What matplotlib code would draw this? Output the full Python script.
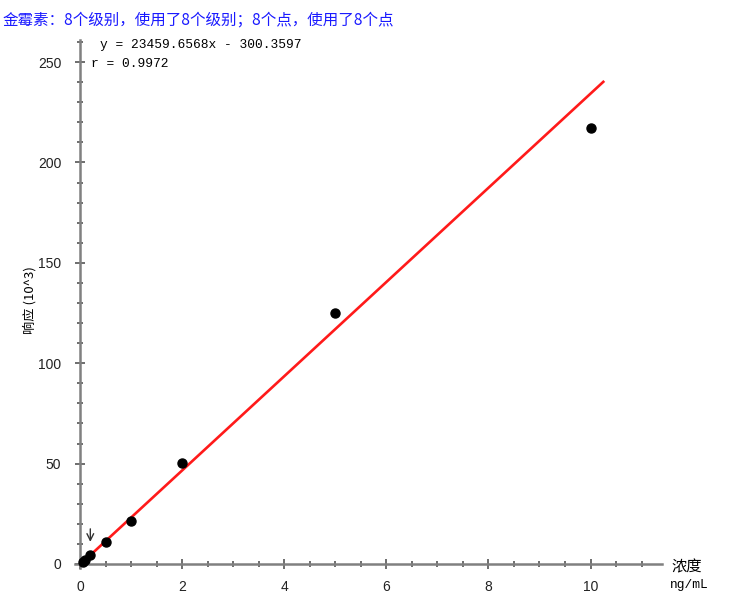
import numpy as np
import matplotlib
matplotlib.use("Agg")
import matplotlib.pyplot as plt
from matplotlib.ticker import MultipleLocator

# calibration levels (ng/mL) and responses (10^3)
conc = [0.05, 0.1, 0.2, 0.5, 1.0, 2.0, 5.0, 10.0]
resp = [1.0, 2.0, 4.6, 11.1, 21.4, 50.1, 125.1, 217.1]

slope = 23459.6568 / 1000
intercept = -300.3597 / 1000
r_value = 0.9972
line_x = [0.0, 10.25]

title = "金霉素：8个级别，使用了8个级别；8个点，使用了8个点"
cjk = ['Noto Sans CJK SC', 'DejaVu Sans']

fig = plt.figure(figsize=(7.33, 6.06), dpi=100)
# x: -0.1 -> px 75, 11.4 -> px 662 ; y: -2 -> px 568, 261 -> px 40
ax = fig.add_axes([75 / 733, 38 / 606, 587 / 733, 528 / 606])
ax.set_xlim(-0.1, 11.4)
ax.set_ylim(-2, 261)

lx = np.array(line_x)
ax.plot(lx, slope * lx + intercept, color='#ff1a1a', lw=1.9, zorder=2)
ax.plot(conc, resp, 'o', color='black', ms=6.5, zorder=3)

# arrow marking the 0.2 level
ax.annotate('', xy=(0.2, 11.0), xytext=(0.2, 17.5),
            arrowprops=dict(arrowstyle='->', color='#333333', lw=1.0,
                            shrinkA=0, shrinkB=0, mutation_scale=12))

for s in ['top', 'right']:
    ax.spines[s].set_visible(False)
for s in ['left', 'bottom']:
    ax.spines[s].set_color('#808080')
    ax.spines[s].set_linewidth(1.8)
ax.spines['left'].set_position(('data', 0))
ax.spines['bottom'].set_position(('data', 0))

ax.xaxis.set_major_locator(MultipleLocator(2))
ax.xaxis.set_minor_locator(MultipleLocator(0.5))
ax.yaxis.set_major_locator(MultipleLocator(50))
ax.yaxis.set_minor_locator(MultipleLocator(10))
ax.tick_params(which='both', direction='inout', color='#555555', width=1.2,
               labelsize=10, labelcolor='#222222', labelfontfamily='Liberation Sans')
ax.tick_params(which='major', length=7, pad=8)
ax.tick_params(which='minor', length=4)
ax.tick_params(axis='y', pad=10)

fig.text(3 / 733, 1 - 20 / 606, title, color='#1a1aff', fontsize=11.2,
         family=cjk, va='center', ha='left')
fig.text(100 / 733, 1 - 45 / 606, "y = 23459.6568x - 300.3597", fontsize=9.3,
         family='Liberation Mono', va='center')
fig.text(91 / 733, 1 - 64 / 606, "r = %.4f" % r_value, fontsize=9.3,
         family='Liberation Mono', va='center')

fig.text(30 / 733, 1 - 300 / 606, "响应 (10^3)", rotation=90, fontsize=9.5,
         family=cjk, ha='center', va='center')
fig.text(671 / 733, 1 - 567 / 606, "浓度", fontsize=11, family=cjk,
         ha='left', va='center')
fig.text(670 / 733, 1 - 585 / 606, "ng/mL", fontsize=9.3,
         family='Liberation Mono', ha='left', va='center')

fig.savefig("out.png", dpi=100)
